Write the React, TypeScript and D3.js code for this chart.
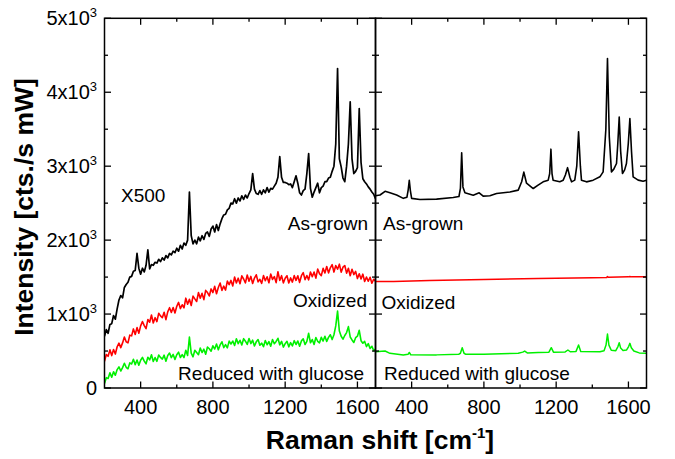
import React from "react";
import * as d3 from "d3";

// Raman shift sampling used for the noisy (x500) spectra, cm^-1
const shiftGrid = [
  200, 210, 220, 230, 240, 250, 260, 270, 280, 290, 300, 310, 320, 330, 340, 350, 360, 370, 380, 390,
  400, 410, 420, 430, 440, 450, 460, 470, 480, 490, 500, 510, 520, 530, 540, 550, 560, 570, 580, 590,
  600, 610, 620, 630, 640, 650, 660, 670, 680, 690, 700, 710, 720, 730, 740, 750, 760, 770, 780, 790,
  800, 810, 820, 830, 840, 850, 860, 870, 880, 890, 900, 910, 920, 930, 940, 950, 960, 970, 980, 990,
  1000, 1010, 1020, 1030, 1040, 1050, 1060, 1070, 1080, 1090, 1100, 1110, 1120, 1130, 1140, 1150, 1160, 1170, 1180, 1190,
  1200, 1210, 1220, 1230, 1240, 1250, 1260, 1270, 1280, 1290, 1300, 1310, 1320, 1330, 1340, 1350, 1360, 1370, 1380, 1390,
  1400, 1410, 1420, 1430, 1440, 1450, 1460, 1470, 1480, 1490, 1500, 1510, 1520, 1530, 1540, 1550, 1560, 1570, 1580, 1590,
  1600, 1610, 1620, 1630, 1640, 1650, 1660, 1670, 1680, 1690, 1700,
];

// Left panel: spectra magnified x500
const asGrownLeft = [
  700, 790, 740, 860, 870, 980, 930, 1070, 1190, 1250, 1220, 1360, 1400, 1430, 1500, 1510, 1580, 1590, 1820, 1620,
  1540, 1620, 1570, 1660, 1870, 1610, 1670, 1660, 1700, 1690, 1740, 1710, 1760, 1730, 1790, 1760, 1820, 1800, 1850, 1830,
  1890, 1850, 1930, 1880, 1960, 1930, 2000, 2650, 2060, 1950, 2000, 1950, 2040, 1990, 2060, 2010, 2090, 2110, 2050, 2150,
  2190, 2110, 2210, 2130, 2220, 2290, 2340, 2350, 2410, 2430, 2500, 2490, 2560, 2500, 2570, 2530, 2600, 2550, 2610, 2570,
  2630, 2680, 2900, 2690, 2630, 2620, 2670, 2620, 2680, 2640, 2710, 2650, 2700, 2690, 2730, 2770, 2850, 3130, 2850, 2780,
  2780, 2770, 2750, 2760, 2710, 2790, 2870, 2770, 2640, 2610, 2670, 2690, 2900, 3170, 2700, 2580, 2650, 2710, 2770, 2640,
  2710, 2730, 2790, 2790, 2840, 2850, 2930, 3000, 3300, 4320, 3100, 2990, 2840, 2790, 3000, 3300, 3870, 3100, 2900, 2930,
  2980, 3780, 3050, 2830, 2790, 2760, 2720, 2690, 2650, 2620, 2560,
];

const oxidizedLeft = [
  360, 452, 429, 516, 438, 520, 459, 558, 607, 546, 610, 690, 625, 610, 715, 705, 799, 723, 817, 741,
  840, 899, 843, 802, 926, 890, 987, 879, 951, 898, 1010, 975, 950, 1025, 925, 1030, 1086, 1022, 1088, 1014,
  1105, 1157, 1074, 1126, 1083, 1215, 1132, 1199, 1116, 1243, 1205, 1170, 1290, 1215, 1280, 1195, 1320, 1290, 1245, 1340,
  1290, 1375, 1275, 1360, 1420, 1320, 1377, 1324, 1446, 1398, 1455, 1380, 1500, 1420, 1485, 1410, 1517, 1474, 1421, 1528,
  1445, 1509, 1413, 1487, 1531, 1435, 1470, 1415, 1520, 1450, 1505, 1423, 1541, 1469, 1507, 1425, 1573, 1456, 1519, 1422,
  1485, 1518, 1421, 1489, 1432, 1520, 1456, 1517, 1428, 1519, 1560, 1466, 1522, 1463, 1569, 1505, 1568, 1486, 1609, 1547,
  1520, 1618, 1556, 1644, 1557, 1625, 1669, 1568, 1657, 1606, 1675, 1567, 1634, 1656, 1553, 1620, 1518, 1606, 1534, 1577,
  1480, 1545, 1475, 1540, 1440, 1500, 1444, 1498, 1417, 1471, 1445,
];

const reducedLeft = [
  60, 140, 130, 205, 145, 220, 172, 249, 285, 230, 275, 335, 280, 260, 340, 325, 388, 316, 379, 307,
  375, 414, 363, 327, 416, 380, 449, 358, 412, 361, 445, 413, 391, 444, 362, 440, 473, 411, 454, 387,
  450, 484, 413, 452, 411, 510, 439, 690, 472, 421, 510, 480, 450, 540, 480, 525, 457, 554, 531, 498,
  570, 527, 594, 516, 583, 625, 546, 587, 543, 634, 595, 635, 575, 665, 600, 645, 581, 667, 633, 589,
  670, 601, 647, 568, 624, 655, 578, 606, 559, 642, 585, 627, 564, 656, 598, 630, 672, 584, 631, 553,
  600, 631, 557, 613, 569, 640, 588, 636, 564, 637, 665, 588, 631, 740, 612, 655, 589, 683, 632, 611,
  685, 635, 700, 630, 685, 720, 655, 720, 840, 1040, 770, 700, 660, 710, 750, 830, 690, 650, 615, 680,
  700, 780, 640, 605, 630, 560, 600, 535, 565, 505, 525,
];

// Right panel: measured spectra, [shift cm^-1, intensity]
const asGrownRight: [number, number][] = [
  [200, 2600], [225, 2610], [253, 2660], [280, 2640], [317, 2610], [354, 2565], [374, 2580], [381, 2680],
  [387, 2810], [393, 2670], [400, 2565], [446, 2550], [538, 2555], [630, 2577], [662, 2590], [670, 2700],
  [677, 3180], [684, 2720], [695, 2640], [741, 2608], [774, 2640], [796, 2595], [833, 2600], [870, 2630],
  [944, 2650], [990, 2676], [1009, 2790], [1021, 2920], [1036, 2770], [1073, 2698], [1100, 2743], [1128, 2788],
  [1156, 2811], [1164, 2900], [1171, 3230], [1177, 2900], [1183, 2811], [1220, 2790], [1239, 2811], [1251, 2880],
  [1263, 2980], [1276, 2850], [1285, 2788], [1303, 2811], [1314, 3000], [1324, 3464], [1334, 3000], [1340, 2811],
  [1368, 2788], [1405, 2811], [1442, 2856], [1460, 2923], [1475, 3500], [1484, 4455], [1494, 3400], [1506, 2923],
  [1519, 2960], [1534, 3036], [1541, 3300], [1549, 3666], [1557, 3200], [1567, 2901], [1579, 2950], [1589, 3036],
  [1599, 3300], [1608, 3645], [1617, 3200], [1626, 2856], [1654, 2811], [1681, 2797], [1700, 2811],
];

const oxidizedRight: [number, number][] = [
  [200, 1440], [300, 1442], [500, 1455], [800, 1468], [1100, 1480], [1400, 1492], [1480, 1496], [1484, 1506],
  [1490, 1497], [1600, 1503], [1608, 1508], [1616, 1503], [1700, 1505],
];

const reducedRight: [number, number][] = [
  [200, 490], [253, 500], [280, 469], [354, 446], [380, 455], [387, 481], [395, 450], [538, 448],
  [660, 455], [670, 470], [680, 545], [690, 470], [700, 455], [800, 458], [990, 469], [1015, 485],
  [1026, 500], [1040, 475], [1100, 480], [1160, 485], [1173, 545], [1185, 485], [1250, 488], [1265, 514],
  [1278, 490], [1310, 495], [1324, 581], [1336, 495], [1442, 490], [1465, 505], [1476, 580], [1484, 730],
  [1492, 580], [1505, 510], [1530, 505], [1542, 560], [1549, 612], [1557, 540], [1570, 508], [1590, 515],
  [1601, 560], [1608, 604], [1616, 545], [1630, 500], [1660, 475], [1700, 469],
];

const yMajorTicks = [0, 1000, 2000, 3000, 4000, 5000];
const yMinorTicks = [500, 1500, 2500, 3500, 4500];
const yTickMantissa = ["0", "1x10", "2x10", "3x10", "4x10", "5x10"];
const xMajorTicks = [400, 800, 1200, 1600];
const xMinorTicks = [600, 1000, 1400];

const FONT = "'Liberation Sans', Arial, Helvetica, sans-serif";
const BLACK = "#000000";
const RED = "#ff0000";
const GREEN = "#00f000";

export default function App() {
  const width = 675;
  const height = 459;
  const top = 18.3;
  const bottom = 388;
  const panels = [
    { x0: 104.5, x1: 375.5 },
    { x0: 375.5, x1: 646.5 },
  ];

  const y = d3.scaleLinear().domain([0, 5000]).range([bottom, top]);
  const xScales = panels.map((p) => d3.scaleLinear().domain([200, 1700]).range([p.x0, p.x1]));

  const lineFor = (xs: d3.ScaleLinear<number, number>) =>
    d3
      .line<[number, number]>()
      .x((d) => xs(d[0]))
      .y((d) => y(d[1]));

  const gridPairs = (vals: number[]): [number, number][] => shiftGrid.map((s, i) => [s, vals[i]]);

  const leftSeries = [
    { data: gridPairs(reducedLeft), color: GREEN, w: 1.6 },
    { data: gridPairs(oxidizedLeft), color: RED, w: 1.6 },
    { data: gridPairs(asGrownLeft), color: BLACK, w: 1.7 },
  ];
  const rightSeries = [
    { data: reducedRight, color: GREEN, w: 1.5 },
    { data: oxidizedRight, color: RED, w: 1.5 },
    { data: asGrownRight, color: BLACK, w: 1.6 },
  ];

  const majorLen = 6.5;
  const minorLen = 3.5;

  return (
    <svg
      width={width}
      height={height}
      style={{ position: "absolute", left: 0, top: 0, background: "#ffffff" }}
      fontFamily={FONT}
    >
      <defs>
        {panels.map((p, i) => (
          <clipPath id={`panel-clip-${i}`} key={i}>
            <rect x={p.x0} y={top} width={p.x1 - p.x0} height={bottom - top} />
          </clipPath>
        ))}
      </defs>

      {/* spectra */}
      <g clipPath="url(#panel-clip-0)">
        {leftSeries.map((s, i) => (
          <path key={i} d={lineFor(xScales[0])(s.data) ?? ""} fill="none" stroke={s.color} strokeWidth={s.w} strokeLinejoin="round" />
        ))}
      </g>
      <g clipPath="url(#panel-clip-1)">
        {rightSeries.map((s, i) => (
          <path key={i} d={lineFor(xScales[1])(s.data) ?? ""} fill="none" stroke={s.color} strokeWidth={s.w} strokeLinejoin="round" />
        ))}
      </g>

      {/* frames and ticks */}
      {panels.map((p, i) => {
        const xs = xScales[i];
        return (
          <g key={i} stroke={BLACK} strokeWidth={1.3}>
            <rect x={p.x0} y={top} width={p.x1 - p.x0} height={bottom - top} fill="none" strokeWidth={1.5} />
            {xMajorTicks.map((t) => (
              <g key={`xM${t}`}>
                <line x1={xs(t)} x2={xs(t)} y1={bottom} y2={bottom - majorLen} />
                <line x1={xs(t)} x2={xs(t)} y1={top} y2={top + majorLen} />
              </g>
            ))}
            {xMinorTicks.map((t) => (
              <g key={`xm${t}`}>
                <line x1={xs(t)} x2={xs(t)} y1={bottom} y2={bottom - minorLen} />
                <line x1={xs(t)} x2={xs(t)} y1={top} y2={top + minorLen} />
              </g>
            ))}
            {yMajorTicks.map((t) => (
              <g key={`yM${t}`}>
                <line x1={p.x0} x2={p.x0 + majorLen} y1={y(t)} y2={y(t)} />
                <line x1={p.x1} x2={p.x1 - majorLen} y1={y(t)} y2={y(t)} />
              </g>
            ))}
            {yMinorTicks.map((t) => (
              <g key={`ym${t}`}>
                <line x1={p.x0} x2={p.x0 + minorLen} y1={y(t)} y2={y(t)} />
                <line x1={p.x1} x2={p.x1 - minorLen} y1={y(t)} y2={y(t)} />
              </g>
            ))}
          </g>
        );
      })}

      {/* x tick labels */}
      {xScales.map((xs, i) =>
        xMajorTicks.map((t) => (
          <text key={`xl${i}-${t}`} x={xs(t)} y={414} fontSize={20} textAnchor="middle" fill={BLACK}>
            {t}
          </text>
        ))
      )}

      {/* y tick labels */}
      {yMajorTicks.map((t, i) => (
        <text key={`yl${t}`} x={97} y={y(t) + 7} fontSize={20} textAnchor="end" fill={BLACK}>
          {yTickMantissa[i]}
          {t !== 0 && (
            <tspan fontSize={13} dy={-8.5}>
              3
            </tspan>
          )}
        </text>
      ))}

      {/* axis titles */}
      <text x={380} y={449} fontSize={26.5} fontWeight="bold" textAnchor="middle" fill={BLACK}>
        Raman shift [cm
        <tspan fontSize={15} dy={-11}>
          -1
        </tspan>
        <tspan dy={11}>]</tspan>
      </text>
      <text
        transform="translate(33,207) rotate(-90)"
        fontSize={26.5}
        fontWeight="bold"
        textAnchor="middle"
        fill={BLACK}
      >
        Intensity [cts./s mW]
      </text>

      {/* annotations */}
      <g fontSize={19} fill={BLACK}>
        <text x={121} y={202}>X500</text>
        <text x={368} y={229.5} textAnchor="end">As-grown</text>
        <text x={367} y={307} textAnchor="end">Oxidized</text>
        <text x={364} y={379.5} textAnchor="end">Reduced with glucose</text>
        <text x={383} y={230}>As-grown</text>
        <text x={381.5} y={308.5}>Oxidized</text>
        <text x={384} y={380}>Reduced with glucose</text>
      </g>
    </svg>
  );
}
